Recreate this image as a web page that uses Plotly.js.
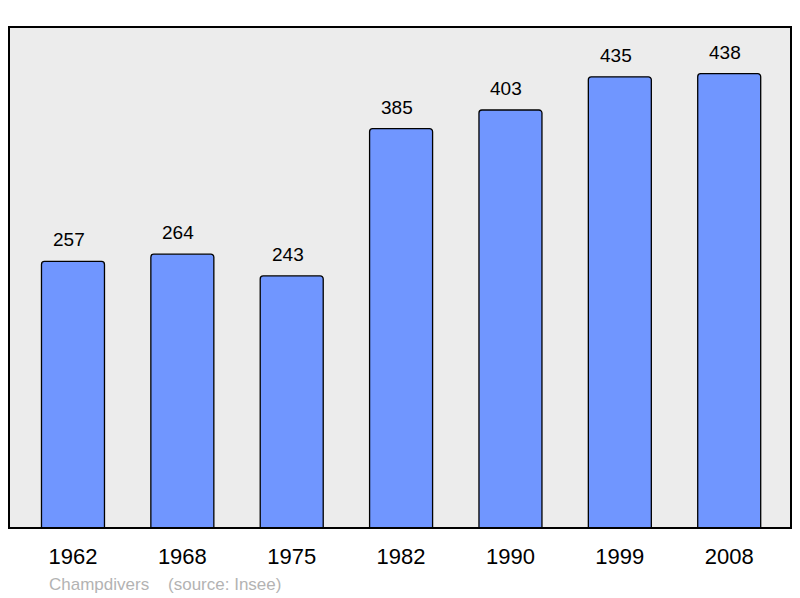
<!DOCTYPE html>
<html><head><meta charset="utf-8">
<script src="https://cdn.plot.ly/plotly-3.0.1.min.js"></script>
<style>html,body{margin:0;padding:0;background:#fff;}</style>
</head><body>
<div id="chart" style="width:800px;height:598px;"></div>
<script>
const years = ["1962","1968","1975","1982","1990","1999","2008"];
const population = [257,264,243,385,403,435,438];
const sourceText = "Champdivers    (source: Insee)";

const FONT = "Liberation Sans, Arial, sans-serif";
const trace = {
  type: "bar",
  x: years,
  y: population,
  width: 0.576,
  marker: {color: "#7096ff", line: {color: "#000", width: 1.3}, cornerradius: 3},
  hoverinfo: "skip"
};
const annotations = years.map((yr, i) => ({
  x: i, y: population[i], xref: "x", yref: "y",
  text: String(population[i]), showarrow: false,
  yanchor: "bottom", yshift: 9, xshift: -4,
  font: {family: FONT, size: 19, color: "#000"}
}));
annotations.push({
  xref: "paper", yref: "paper", x: 0.048, y: -0.112, xanchor: "left", yanchor: "middle",
  text: sourceText, showarrow: false,
  font: {family: FONT, size: 17, color: "#b3b3b3"}
});
const layout = {
  width: 800, height: 598,
  margin: {l: 9, r: 9, t: 27, b: 70, pad: 0},
  paper_bgcolor: "#fff", plot_bgcolor: "#ececec",
  showlegend: false,
  xaxis: {type: "category", range: [-0.585, 6.565], showgrid: false, zeroline: false, showline: false,
    ticks: "", tickfont: {family: FONT, size: 22, color: "#000"}, ticklabelstandoff: 13, fixedrange: true},
  yaxis: {range: [0, 483], showgrid: false, zeroline: false, showline: false, showticklabels: false, ticks: "", fixedrange: true},
  annotations: annotations,
  shapes: [{type: "rect", xref: "paper", yref: "paper", x0: 0, x1: 1, y0: 0, y1: 1,
    line: {color: "#000", width: 2}, fillcolor: "rgba(0,0,0,0)", layer: "above"}]
};
Plotly.newPlot("chart", [trace], layout, {displayModeBar: false, staticPlot: true});
</script>
</body></html>
